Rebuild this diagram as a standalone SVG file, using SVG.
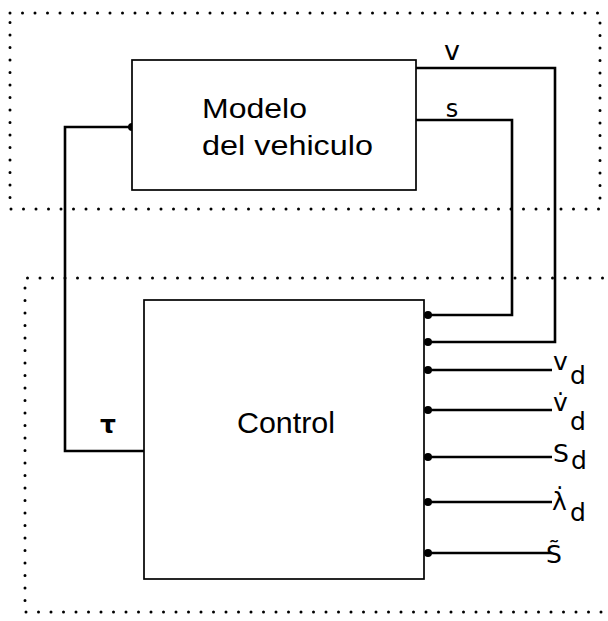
<svg xmlns="http://www.w3.org/2000/svg" width="608" height="621" viewBox="0 0 608 621">
<defs>
<style>
.frame{fill:none;stroke:#000;stroke-width:3;stroke-dasharray:0 12.5;stroke-linecap:round}
.box{fill:#fff;stroke:#000;stroke-width:1.7}
.wire{fill:none;stroke:#000;stroke-width:2.6;stroke-linejoin:miter}
.pt{fill:#000}
.t{font-family:"Liberation Sans",Arial,sans-serif;fill:#000}
.l{font-family:"DejaVu Sans","Liberation Sans",sans-serif;fill:#000;font-size:25px}
</style>
</defs>
<rect width="608" height="621" fill="#fff"/>
<g id="frames">
<rect class="frame" x="10" y="13" width="590" height="196"/>
<path class="frame" d="M640 278 H25 V612 H640"/>
</g>
<g id="connectors">
<path class="wire" d="M144 451 H65 V127 H132"/>
<circle class="pt" cx="132" cy="127" r="4"/>
<path class="wire" d="M416 68 H555 V342 H426"/>
<path class="wire" d="M416 120 H512 V315 H426"/>
<circle class="pt" cx="428" cy="315" r="4"/>
<circle class="pt" cx="428" cy="342" r="4"/>
<path class="wire" d="M552 370 H426 M552 410 H426 M552 457 H426 M552 502 H426 M552 553 H426"/>
<circle class="pt" cx="428" cy="370" r="4"/>
<circle class="pt" cx="428" cy="410" r="4"/>
<circle class="pt" cx="428" cy="457" r="4"/>
<circle class="pt" cx="428" cy="502" r="4"/>
<circle class="pt" cx="428" cy="553" r="4"/>
<text class="l" x="452" y="60" text-anchor="middle" style="font-size:27px">v</text>
<text class="l" x="452" y="117" text-anchor="middle" style="font-size:24px">s</text>
<text class="l" x="108" y="433" font-weight="bold" text-anchor="middle">τ</text>
<text class="l" x="553" y="370">v<tspan x="570" y="384">d</tspan></text>
<text class="l" x="553" y="411">v̇<tspan x="570" y="430">d</tspan></text>
<text class="l" x="553" y="462">S<tspan x="571" y="469">d</tspan></text>
<text class="l" x="552" y="510">λ̇<tspan x="570" y="521">d</tspan></text>
<text class="l" x="546" y="563">S̃</text>
</g>
<g id="modelo">
<rect class="box" x="132" y="60" width="284" height="130"/>
<text class="t" x="202" y="118" font-size="27" textLength="105" lengthAdjust="spacingAndGlyphs">Modelo</text>
<text class="t" x="202" y="155" font-size="27" textLength="171" lengthAdjust="spacingAndGlyphs">del vehiculo</text>
</g>
<g id="control">
<rect class="box" x="144" y="300" width="280" height="279"/>
<text class="t" x="237" y="433" font-size="29" textLength="98" lengthAdjust="spacingAndGlyphs">Control</text>
</g>
</svg>
